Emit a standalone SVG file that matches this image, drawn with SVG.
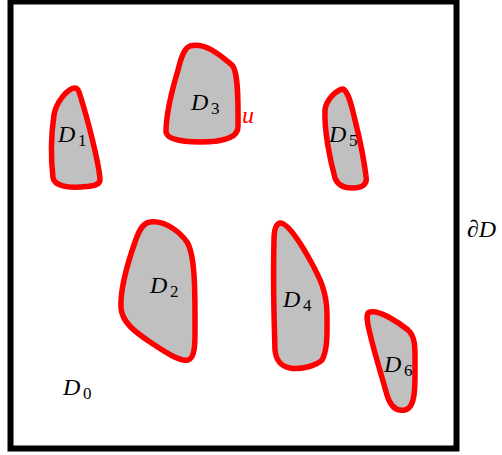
<svg xmlns="http://www.w3.org/2000/svg" width="502" height="455" viewBox="0 0 502 455">
<style>
.blob{fill:#c0c0c0;stroke:#ff0000;stroke-width:5.5;stroke-linejoin:round}
.lbl{font-family:"Liberation Serif","Times New Roman",serif;font-style:italic;font-size:24px;fill:#000}
.sub{font-style:normal;font-size:17px}
</style>
<rect width="502" height="455" fill="#fff"/>
<g id="D0">
<rect x="10.5" y="1.5" width="446" height="447" fill="none" stroke="#000" stroke-width="6"/>
<text class="lbl" x="63" y="395">D<tspan class="sub" x="83" y="399">0</tspan></text>
</g>
<g id="boundary">
<text class="lbl" x="467" y="237">∂D</text>
</g>
<g id="D1">
<path class="blob" d="M 75 88 C 68 88, 56 102, 54 115 C 51 135, 51 160, 53 178 C 55 186, 68 188, 80 187 C 92 186, 101 186, 100 178 C 98 160, 88 120, 80 95 C 79 91, 78 88, 75 88 Z"/>
<text class="lbl" x="58" y="142">D<tspan class="sub" x="78" y="146">1</tspan></text>
</g>
<g id="D3">
<path class="blob" d="M 190 46 C 205 42, 220 55, 232 65 C 239 72, 238 110, 238 127 C 238 140, 215 142, 200 142 C 185 142, 167 140, 166 132 C 166 115, 172 90, 178 70 C 181 58, 184 48, 190 46 Z"/>
<text class="lbl" x="191" y="110">D<tspan class="sub" x="211" y="114">3</tspan></text>
<text class="lbl" x="242" y="123" style="fill:#ff0000">u</text>
</g>
<g id="D5">
<path class="blob" d="M 343 89 C 336 90, 326 100, 325 110 C 324 130, 330 160, 335 178 C 338 186, 345 188, 352 188 C 360 188, 368 186, 366 176 C 364 160, 360 140, 355 120 C 352 108, 349 92, 343 89 Z"/>
<text class="lbl" x="329" y="142">D<tspan class="sub" x="349" y="146">5</tspan></text>
</g>
<g id="D2">
<path class="blob" d="M 150 222 C 165 220, 180 232, 187 242 C 195 255, 195 290, 195 320 C 195 340, 196 358, 188 360 C 180 362, 165 352, 150 342 C 135 332, 122 322, 121 308 C 120 290, 128 262, 135 242 C 139 230, 143 223, 150 222 Z"/>
<text class="lbl" x="150" y="293">D<tspan class="sub" x="170" y="297">2</tspan></text>
</g>
<g id="D4">
<path class="blob" d="M 280 223 C 287 222, 300 242, 310 260 C 320 278, 327 292, 327 315 C 327 330, 328 350, 322 360 C 316 366, 300 370, 290 368 C 280 366, 276 360, 275 350 C 274 320, 273 280, 274 240 C 274 230, 276 224, 280 223 Z"/>
<text class="lbl" x="283" y="307">D<tspan class="sub" x="303" y="311">4</tspan></text>
</g>
<g id="D6">
<path class="blob" d="M 370 312 C 380 310, 398 322, 408 330 C 416 337, 415 350, 415 365 C 415 385, 416 408, 405 410 C 395 412, 390 405, 387 395 C 380 370, 372 345, 368 325 C 367 318, 366 313, 370 312 Z"/>
<text class="lbl" x="384" y="372">D<tspan class="sub" x="404" y="376">6</tspan></text>
</g>
<g id="connectors"/>
</svg>
